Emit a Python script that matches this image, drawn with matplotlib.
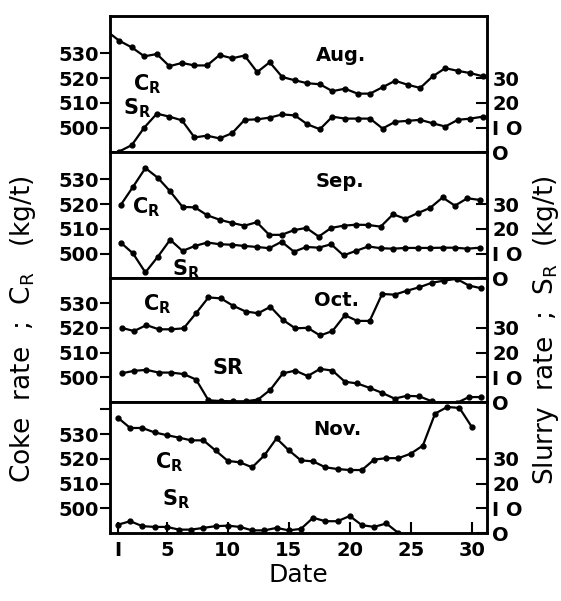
import numpy as np
import matplotlib.pyplot as plt

# day numbers (Aug starts at day 0 because the line enters from the left border)
aug_days = np.arange(0, 31)
days = np.arange(1, 31)
nov_sr_days = np.arange(1, 25)

aug_coke = [539, 535.1, 532.4, 528.8, 529.7, 524.8, 526.1, 525.1, 525.1, 529.3, 528.0,
            529.1, 522.4, 526.4, 520.4, 519.1, 517.9, 517.5, 514.7, 515.7, 513.7,
            513.7, 516.3, 518.9, 517.3, 516.0, 520.7, 524.0, 522.9, 522.0, 520.7]
aug_slurry = [-1, 0.3, 2.9, 10.0, 15.6, 14.4, 12.9, 6.0, 6.7, 5.6, 7.7,
              13.1, 13.3, 14.0, 15.3, 14.9, 11.3, 9.3, 14.4, 13.6, 13.6,
              13.6, 9.6, 12.3, 12.7, 13.1, 11.7, 10.4, 13.1, 13.6, 14.4]

sep_coke = [519.6, 527.0, 534.6, 530.7, 525.2, 518.9, 518.7, 515.5, 513.7, 512.4,
            511.3, 512.7, 507.6, 507.6, 509.5, 510.4, 506.9, 510.4, 511.3, 511.7,
            511.6, 510.9, 515.9, 514.1, 516.4, 518.5, 522.7, 519.4, 522.4, 521.7]
sep_slurry = [14.5, 10.1, 2.4, 8.7, 15.6, 11.1, 13.1, 14.5, 13.8, 13.6,
              13.1, 12.7, 12.2, 14.8, 10.8, 12.7, 12.4, 13.8, 9.3, 11.1,
              12.9, 12.2, 12.0, 12.3, 12.3, 12.3, 12.4, 12.4, 12.0, 12.4]

oct_coke = [520.0, 518.7, 521.1, 519.4, 519.4, 519.8, 525.9, 532.3, 531.9, 528.9,
            526.6, 525.9, 528.5, 523.2, 519.8, 520.0, 516.9, 518.7, 525.1, 522.8,
            522.8, 533.7, 533.4, 535.0, 536.4, 538.2, 539.1, 539.8, 537.1, 536.0]
oct_slurry = [11.6, 12.6, 13.0, 11.9, 11.9, 11.3, 9.1, 0.7, 0.4, 0.3,
              0.3, 1.0, 5.0, 11.6, 12.7, 10.5, 13.4, 12.7, 8.2, 7.5,
              5.7, 3.7, 1.4, 2.5, 2.3, 0.3, -0.8, -0.4, 2.0, 2.0]

nov_coke = [536.6, 532.5, 532.5, 530.7, 529.6, 528.6, 527.5, 527.5, 523.4, 519.2,
            518.6, 516.6, 521.4, 528.3, 523.5, 519.4, 519.0, 516.6, 515.9, 515.5,
            515.5, 519.7, 520.3, 520.3, 522.1, 525.4, 538.3, 541.0, 540.6, 533.0]
nov_slurry = [3.4, 4.8, 2.8, 2.5, 2.5, 1.4, 1.4, 2.1, 2.8, 3.0, 2.5, 1.1,
              1.1, 2.1, 1.1, 1.7, 6.2, 4.8, 4.8, 6.9, 3.2, 2.5, 3.9, 0.0]

months = ["Aug.", "Sep.", "Oct.", "Nov."]
coke_tops = [545, 541, 540, 543]
# each hand-drawn panel has its own slightly different day spacing
x_limits = [(0.26, 30.3), (0.14, 30.56), (0.06, 30.43), (0.34, 31.23)]
xticks = [1, 5, 10, 15, 20, 25, 30]
xtick_labels = ["I", "5", "10", "15", "20", "25", "30"]

panels = [
    (aug_days, aug_coke, aug_days, aug_slurry),
    (days, sep_coke, days, sep_slurry),
    (days, oct_coke, days, oct_slurry),
    (days, nov_coke, nov_sr_days, nov_slurry),
]
# (x, y) of month name, C_R label, S_R label in left-axis units
month_pos = [(18.7, 529.2), (18.7, 529.0), (18.3, 531.2), (18.95, 531.8)]
cr_pos = [(3.2, 517.6), (3.04, 518.9), (3.9, 529.6), (5.2, 518.7)]
sr_pos = [(2.4, 508.0), (6.27, 493.8), (9.6, 503.7), (5.8, 503.8)]
sr_text = [r"S$_\mathregular{R}$", r"S$_\mathregular{R}$", "SR", r"S$_\mathregular{R}$"]

fig = plt.figure(figsize=(5.61, 6.01), dpi=100)
gs = fig.add_gridspec(4, 1, height_ratios=[t - 490 for t in coke_tops], hspace=0,
                      left=0.196, right=0.8675, top=0.973, bottom=0.113)

for i, (xc, yc, xs, ys) in enumerate(panels):
    ax = fig.add_subplot(gs[i])
    ax2 = ax.twinx()
    ax.plot(xc, yc, '-o', color='black', lw=1.6, ms=3.5)
    ax2.plot(xs, ys, '-o', color='black', lw=1.6, ms=3.5)
    ax.set_xlim(*x_limits[i])
    ax.set_ylim(490, coke_tops[i])
    ax2.set_ylim(0, coke_tops[i] - 490)
    if i == 3:
        ax.set_yticks([500, 510, 520, 530, 540])
        ax.set_yticklabels(["500", "510", "520", "530", ""])
    else:
        ax.set_yticks([500, 510, 520, 530])
    ax2.set_yticks([0, 10, 20, 30])
    ax2.set_yticklabels(["O", "I O", "20", "30"])
    ax.tick_params(axis='y', direction='out', length=7, width=1.5, labelsize=14, pad=1)
    ax2.tick_params(axis='y', direction='in', length=8, width=1.5, labelsize=14, pad=4)
    for lab in ax.get_yticklabels() + ax2.get_yticklabels():
        lab.set_fontweight('bold')
    for sp in ax.spines.values():
        sp.set_linewidth(1.8)
    for sp in ax2.spines.values():
        sp.set_linewidth(1.8)
    if i < 3:
        ax.tick_params(axis='x', bottom=False, labelbottom=False)
    else:
        ax.set_xticks(xticks)
        ax.set_xticklabels(xtick_labels)
        ax.tick_params(axis='x', direction='in', length=8, width=1.5, labelsize=14, pad=6)
        for lab in ax.get_xticklabels():
            lab.set_fontweight('bold')
        ax.set_xlabel("Date", fontsize=18, labelpad=2)
    ax.text(*month_pos[i], months[i], fontsize=14, fontweight='bold', ha='center', va='center')
    ax.text(*cr_pos[i], r"C$_\mathregular{R}$", fontsize=15, fontweight='bold', ha='center', va='center')
    ax.text(*sr_pos[i], sr_text[i], fontsize=15, fontweight='bold', ha='center', va='center')

fig.text(0.041, 0.452, r"Coke  rate  ;  C$_\mathregular{R}$   (kg/t)", rotation=90, fontsize=19,
         ha='center', va='center')
fig.text(0.973, 0.45, r"Slurry  rate  ;  S$_\mathregular{R}$  (kg/t)", rotation=90, fontsize=19,
         ha='center', va='center')

fig.savefig("out.png", dpi=100)
